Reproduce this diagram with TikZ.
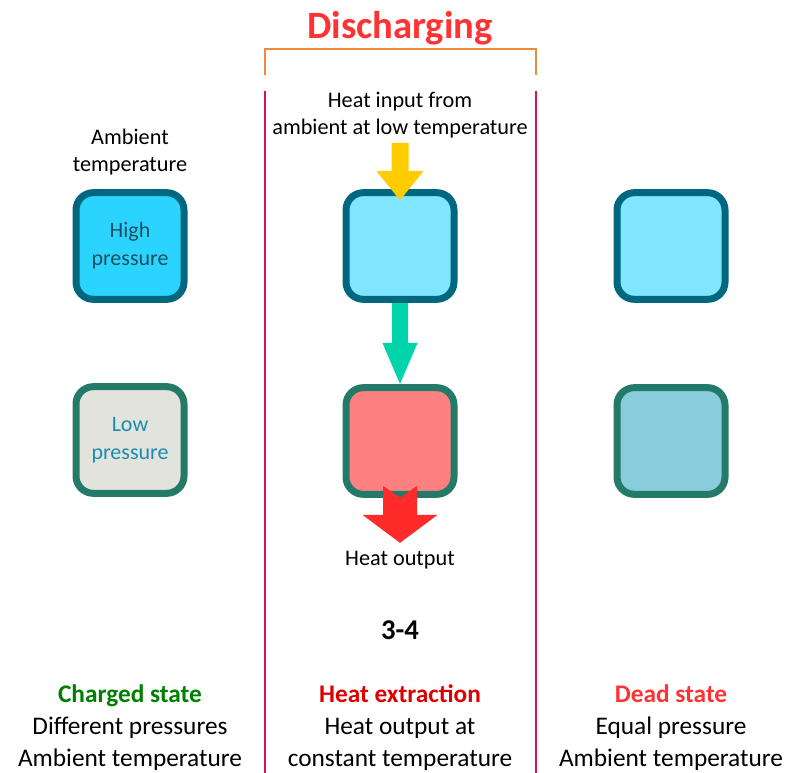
\documentclass[tikz,border=0pt]{standalone}
\usepackage{fontspec}
\setmainfont{Carlito}
\usetikzlibrary{calc}

\definecolor{bordhi}{HTML}{00677F}
\definecolor{bordlo}{HTML}{237A68}
\definecolor{fillhigh}{HTML}{2AD4FF}
\definecolor{filllight}{HTML}{80E5FF}
\definecolor{fillgrey}{HTML}{E3E3DD}
\definecolor{fillhot}{HTML}{FF8080}
\definecolor{filldead}{HTML}{89CDDC}
\definecolor{txthigh}{HTML}{1F4E5F}
\definecolor{txtlow}{HTML}{1A8CB0}
\definecolor{yellowarr}{HTML}{FFCC00}
\definecolor{flowarr}{HTML}{00D4AA}
\definecolor{redarr}{HTML}{FF2A2A}
\definecolor{titlered}{HTML}{FF3333}
\definecolor{extractred}{HTML}{DD0000}
\definecolor{chargegreen}{HTML}{008000}
\definecolor{bracketorange}{HTML}{F28A3C}
\definecolor{divider}{HTML}{D4145A}

\begin{document}
\begin{tikzpicture}[x=0.75pt,y=-0.75pt,
  vessel/.style={rounded corners=13pt, line width=5.25pt, minimum width=81pt,
    minimum height=80pt, inner sep=0pt, align=center,
    font=\fontsize{16.5}{21}\selectfont},
  highv/.style={vessel, draw=bordhi},
  lowv/.style={vessel, draw=bordlo},
  small/.style={font=\fontsize{16.7}{20}\selectfont, align=center, inner sep=0pt},
  big/.style={font=\fontsize{19}{24}\selectfont, align=center, inner sep=0pt},
  divline/.style={draw=divider, line width=1.5pt},
]
\useasboundingbox (0,0) rectangle (799,773);

% title and bracket
\node[font=\bfseries\fontsize{29}{34}\selectfont, text=titlered, inner sep=0pt] (title) at (400,28) {Discharging};
\draw[bracketorange, line width=1.6pt] (265,75) -- (265,49) -- (536,49) -- (536,75);

% column dividers
\draw[divline] (265,91) -- (265,773);
\draw[divline] (536,91) -- (536,773);

% labels above the vessels
\node[small] (amb) at (130,152) {Ambient\\temperature};
\node[small] (heatinlbl) at (400,115) {Heat input from\\ambient at low temperature};

% flow from the high to the low pressure vessel (drawn under the vessels)
\coordinate (m1s) at (400,301);
\coordinate (m2n) at (400,384);
\fill[flowarr] ($(m1s)+(-8,-2)$) -- ($(m2n)+(-8,-41)$) -- ($(m2n)+(-17.5,-41)$)
  -- (m2n) -- ($(m2n)+(17.5,-41)$) -- ($(m2n)+(8,-41)$) -- ($(m1s)+(8,-2)$) -- cycle;

% charged state
\node[highv, fill=fillhigh, text=txthigh] (l1) at (130,246) {High\\pressure};
\node[lowv, fill=fillgrey, text=txtlow] (l2) at (130,440) {Low\\pressure};

% heat extraction
\node[highv, fill=filllight] (m1) at (400,246) {};
\node[lowv, fill=fillhot] (m2) at (400,441) {};

% dead state
\node[highv, fill=filllight] (r1) at (671,246) {};
\node[lowv, fill=filldead] (r2) at (671,441) {};

% heat input arrow
\coordinate (heatin) at (400,143);
\fill[yellowarr] ($(heatin)+(-8.5,0)$) -- ($(m1.north)+(-8.5,-18)$) -- ($(m1.north)+(-23.5,-18)$)
  -- ($(m1.north)+(0,11)$) -- ($(m1.north)+(23.5,-18)$) -- ($(m1.north)+(8.5,-18)$)
  -- ($(heatin)+(8.5,0)$) -- cycle;

% heat output arrow (notched)
\fill[redarr] (m2.south) -- ($(m2.south)+(-17,-12)$) -- ($(m2.south)+(-17,17)$)
  -- ($(m2.south)+(-37.5,17)$) -- ($(m2.south)+(0,45)$) -- ($(m2.south)+(37.5,17)$)
  -- ($(m2.south)+(17,17)$) -- ($(m2.south)+(17,-12)$) -- cycle;

\node[small] (heatout) at (400,560) {Heat output};
\node[big, font=\bfseries\fontsize{21.5}{26}\selectfont] (step34) at (400,630) {3-4};

% captions
\node[big] (capl) at (130,728) {\textcolor{chargegreen}{\bfseries Charged state}\\Different pressures\\Ambient temperature};
\node[big] (capm) at (400,728) {\textcolor{extractred}{\bfseries Heat extraction}\\Heat output at\\constant temperature};
\node[big] (capr) at (671,728) {\textcolor{titlered}{\bfseries Dead state}\\Equal pressure\\Ambient temperature};
\end{tikzpicture}
\end{document}
